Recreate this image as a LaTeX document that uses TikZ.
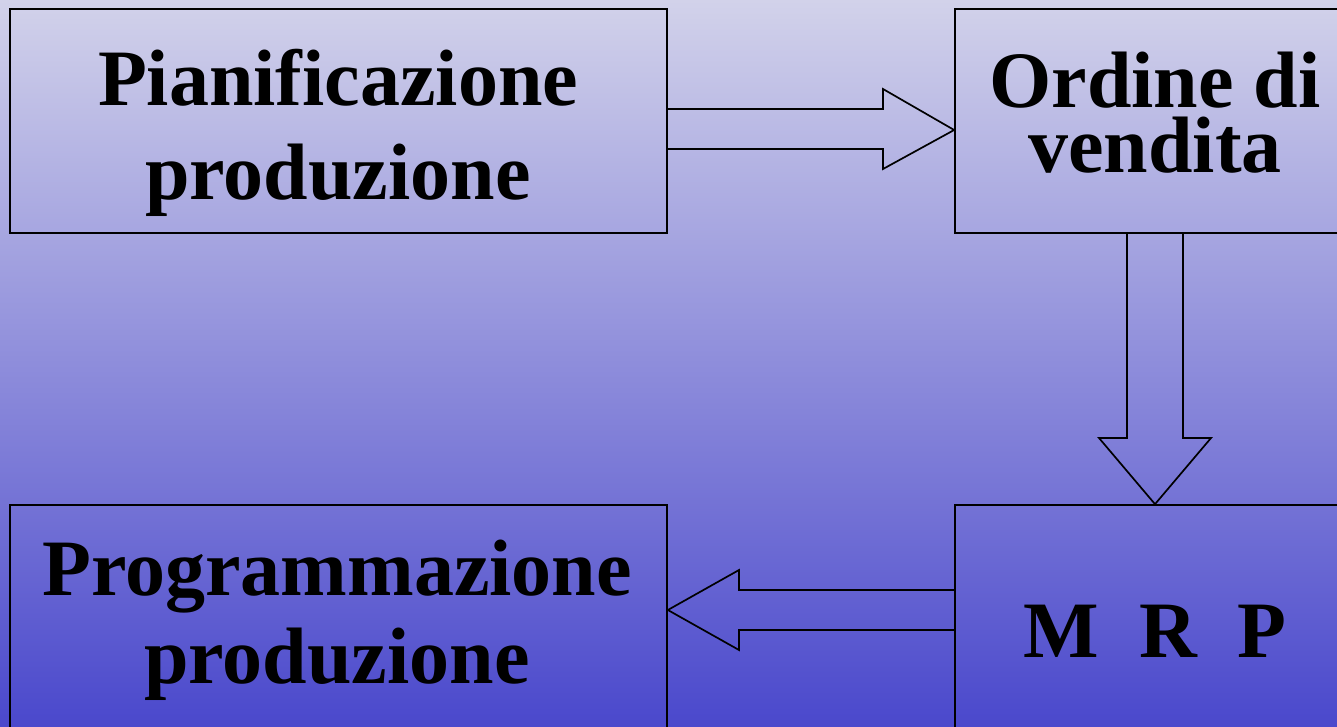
\documentclass[tikz,border=0pt]{standalone}
\usepackage{fontspec}
\setmainfont{Liberation Serif}
\begin{document}
\begin{tikzpicture}[x=1pt,y=-1pt,
  box/.style={draw=black,line width=1.7pt,rectangle,inner sep=0pt,minimum width=#1,minimum height=224pt},
  blockarrow/.style={draw=black,line width=1.7pt,line join=miter},
  label/.style={anchor=base,inner sep=0pt,font=\fontsize{80}{80}\selectfont\bfseries}]
  % page and its vertical gradient
  \useasboundingbox (0,0) rectangle (1337,727);
  \shade[top color={rgb,255:red,210;green,210;blue,234},
         middle color={rgb,255:red,153;green,150;blue,220},
         bottom color={rgb,255:red,74;green,72;blue,204}]
    (0,0) rectangle (1337,727);
  \begin{scope}
  \clip (0,0) rectangle (1337,727);
  % boxes
  \node[box=657pt] (pian) at (338.5,121) {};
  \node[box=400pt] (ord)  at (1155,121)  {};
  \node[box=657pt] (prog) at (338.5,617) {};
  \node[box=400pt] (mrp)  at (1155,617)  {};
  % block arrows between boxes
  \draw[blockarrow] (pian.east |- 0,109) -- (883,109) -- (883,89)
     -- (ord.west |- 0,130) -- (883,169) -- (883,149) -- (pian.east |- 0,149);
  \draw[blockarrow] (1127,0 |- ord.south) -- (1127,438) -- (1099,438)
     -- (mrp.north) -- (1211,438) -- (1183,438) -- (1183,0 |- ord.south);
  \draw[blockarrow] (mrp.west |- 0,590) -- (739,590) -- (739,570)
     -- (prog.east |- 0,610) -- (739,650) -- (739,630) -- (mrp.west |- 0,630);
  \end{scope}
  % box texts
  \node[label] (pian1) at (338,106) {Pianificazione};
  \node[label] (pian2) at (338,200) {produzione};
  \node[label,text depth=0pt] (ord1)  at (1155,108) {Ordine di};
  \node[label,text height=56pt] (ord2)  at (1155,173) {vendita};
  \node[label] (prog1) at (337,595) {Programmazione};
  \node[label] (prog2) at (337,683) {produzione};
  \node[label] (mrp1)  at (1155,657) {M\ \ R\ \ P};
\end{tikzpicture}
\end{document}
